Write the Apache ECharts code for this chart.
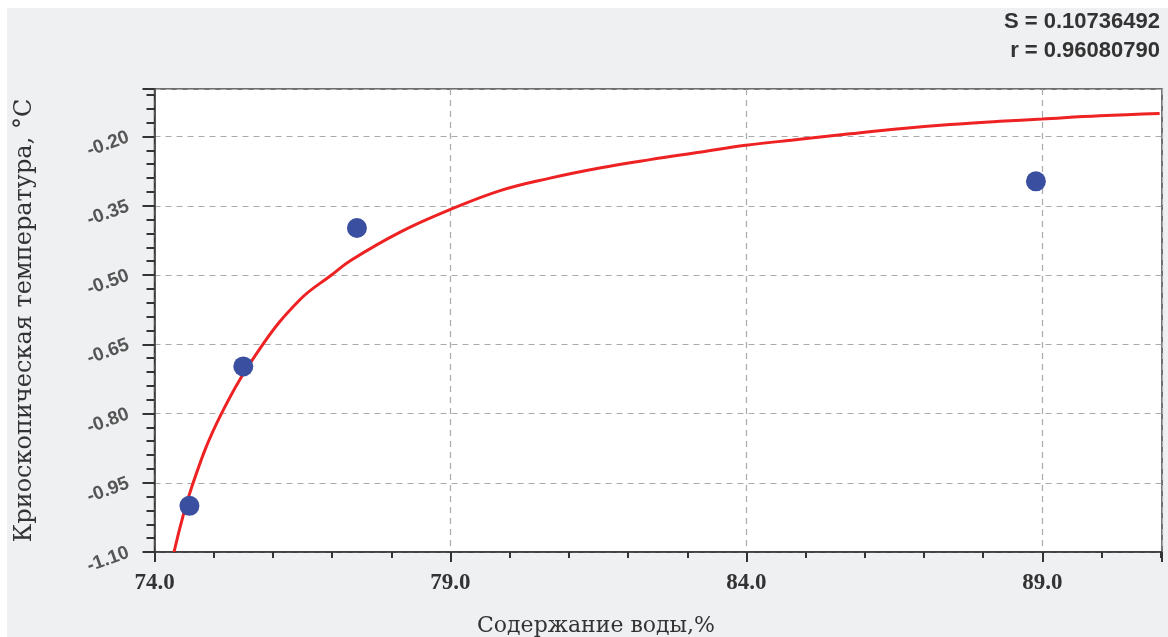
<!DOCTYPE html>
<html>
<head>
<meta charset="utf-8">
<script src="https://cdn.jsdelivr.net/npm/echarts@6/dist/echarts.min.js"></script>
<style>
html,body{margin:0;padding:0;background:#fff;}
#c{width:1168px;height:637px;}
</style>
</head>
<body>
<div id="c"></div>
<script>
// Measured data points (water content %, cryoscopic temperature °C)
const pointX = [74.59, 75.50, 77.42, 88.89];
const pointY = [-1.00, -0.698, -0.398, -0.297];
// Fitted curve
const curveX = [74.33, 74.64, 75.12, 75.81, 76.46, 76.99, 77.32, 78.15, 78.98, 79.84, 80.68, 81.52, 82.37, 83.21, 83.99, 84.90, 85.75, 86.59, 87.44, 88.28, 88.99, 89.97, 90.98];
const curveY = [-1.10, -0.955, -0.803, -0.654, -0.553, -0.500, -0.468, -0.407, -0.359, -0.317, -0.290, -0.268, -0.250, -0.234, -0.219, -0.206, -0.194, -0.183, -0.174, -0.167, -0.162, -0.155, -0.150];
const statLines = ['S = 0.10736492', 'r = 0.96080790'];
const xName = 'Содержание воды,%';
const yName = 'Криоскопическая температура, °C';

const chart = echarts.init(document.getElementById('c'));
chart.setOption({
  animation: false,
  backgroundColor: '#ffffff',
  graphic: [
    {type: 'rect', z: -10, silent: true, shape: {x: 7, y: 8, width: 1161, height: 629}, style: {fill: '#eff0f2'}},
    {type: 'text', right: 8, top: 11, style: {text: statLines[0], font: 'bold 22px "Liberation Sans", Arial, sans-serif', fill: '#333', textAlign: 'right'}},
    {type: 'text', right: 8, top: 40, style: {text: statLines[1], font: 'bold 22px "Liberation Sans", Arial, sans-serif', fill: '#333', textAlign: 'right'}},
    {type: 'text', x: 596, y: 626, style: {text: xName, font: '22px "DejaVu Serif", "Liberation Serif", serif', fill: '#333', textAlign: 'center', textVerticalAlign: 'middle'}}
  ],
  grid: {left: 154.5, right: 6, top: 89, bottom: 85, show: true, backgroundColor: '#ffffff', borderColor: '#444', borderWidth: 1.5},
  xAxis: {
    type: 'value', min: 74, max: 91.02, interval: 5,
    axisLine: {show: true, lineStyle: {color: '#333', width: 1.5}},
    axisTick: {show: true, length: 10, lineStyle: {color: '#333', width: 2}},
    minorTick: {show: true, splitNumber: 5, length: 6, lineStyle: {color: '#333', width: 2}},
    axisLabel: {formatter: v => v.toFixed(1), fontFamily: '"Liberation Serif", serif', fontWeight: 'bold', fontSize: 23, color: '#333', margin: 20, showMaxLabel: false},
    splitLine: {show: true, lineStyle: {color: '#aaa', type: [6, 5], width: 1.2}}
  },
  yAxis: {
    type: 'value', min: -1.10, max: -0.097, interval: 0.15,
    name: yName, nameLocation: 'middle', nameGap: 118, nameRotate: 90,
    nameTextStyle: {fontFamily: '"DejaVu Serif", "Liberation Serif", serif', fontSize: 24, color: '#333'},
    axisLine: {show: true, lineStyle: {color: '#333', width: 1.5}},
    axisTick: {show: true, length: 12, lineStyle: {color: '#333', width: 2}},
    minorTick: {show: true, splitNumber: 5, length: 8, lineStyle: {color: '#333', width: 2}},
    axisLabel: {formatter: v => v.toFixed(2), fontFamily: '"Liberation Sans", Arial, sans-serif', fontWeight: 'bold', fontSize: 19, color: '#555', rotate: 20, margin: 26, showMaxLabel: false},
    splitLine: {show: true, lineStyle: {color: '#aaa', type: [6, 5], width: 1.2}}
  },
  series: [
    {type: 'line', data: curveX.map((x, i) => [x, curveY[i]]), smooth: 0.4, showSymbol: false, symbol: 'none', clip: true,
     lineStyle: {color: '#ee2222', width: 3}, z: 2},
    {type: 'scatter', data: pointX.map((x, i) => [x, pointY[i]]), symbol: 'circle', symbolSize: 20,
     itemStyle: {color: '#3a4f9f', opacity: 1}, z: 3}
  ]
});
</script>
</body>
</html>
